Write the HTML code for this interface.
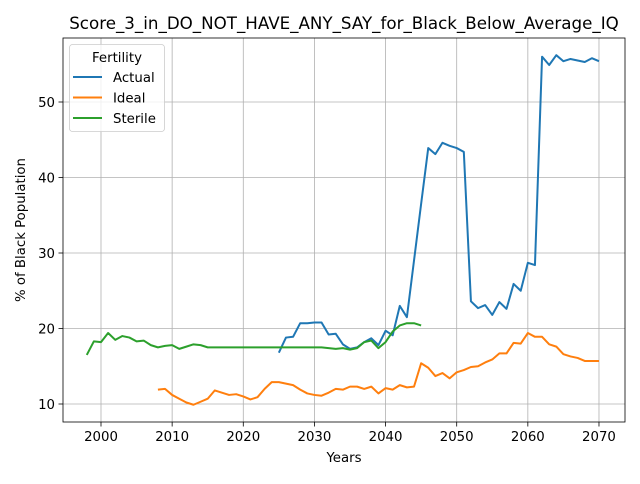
<!DOCTYPE html>
<html><head><meta charset="utf-8"><style>
body{margin:0;background:#fff;font-family:"DejaVu Sans","Liberation Sans",sans-serif;}
svg text{font-family:"DejaVu Sans","Liberation Sans",sans-serif;}
</style></head><body>
<svg id="chart" width="640" height="480" xmlns="http://www.w3.org/2000/svg"></svg>
<script>
const actualYears=[2025,2026,2027,2028,2029,2030,2031,2032,2033,2034,2035,2036,2037,2038,2039,2040,2041,2042,2043,2044,2045,2046,2047,2048,2049,2050,2051,2052,2053,2054,2055,2056,2057,2058,2059,2060,2061,2062,2063,2064,2065,2066,2067,2068,2069,2070];
const actualValues=[16.8,18.8,18.9,20.7,20.7,20.8,20.8,19.2,19.3,17.9,17.3,17.5,18.2,18.7,17.8,19.7,19.1,23.0,21.5,29.0,36.5,43.9,43.1,44.6,44.2,43.9,43.4,23.6,22.7,23.1,21.8,23.5,22.6,25.9,25.0,28.7,28.4,56.0,54.9,56.2,55.4,55.7,55.5,55.3,55.8,55.4];
const idealYears=[2008,2009,2010,2011,2012,2013,2014,2015,2016,2017,2018,2019,2020,2021,2022,2023,2024,2025,2026,2027,2028,2029,2030,2031,2032,2033,2034,2035,2036,2037,2038,2039,2040,2041,2042,2043,2044,2045,2046,2047,2048,2049,2050,2051,2052,2053,2054,2055,2056,2057,2058,2059,2060,2061,2062,2063,2064,2065,2066,2067,2068,2069,2070];
const idealValues=[11.9,12.0,11.2,10.7,10.2,9.9,10.3,10.7,11.8,11.5,11.2,11.3,11.0,10.6,10.9,12.0,12.9,12.9,12.7,12.5,11.9,11.4,11.2,11.1,11.5,12.0,11.9,12.3,12.3,12.0,12.3,11.4,12.1,11.9,12.5,12.2,12.3,15.4,14.8,13.7,14.1,13.4,14.2,14.5,14.9,15.0,15.5,15.9,16.7,16.7,18.1,18.0,19.4,18.9,18.9,17.9,17.6,16.6,16.3,16.1,15.7,15.7,15.7];
const sterileYears=[1998,1999,2000,2001,2002,2003,2004,2005,2006,2007,2008,2009,2010,2011,2012,2013,2014,2015,2016,2017,2018,2019,2020,2021,2022,2023,2024,2025,2026,2027,2028,2029,2030,2031,2032,2033,2034,2035,2036,2037,2038,2039,2040,2041,2042,2043,2044,2045];
const sterileValues=[16.5,18.3,18.2,19.4,18.5,19.0,18.8,18.3,18.4,17.8,17.5,17.7,17.8,17.3,17.6,17.9,17.8,17.5,17.5,17.5,17.5,17.5,17.5,17.5,17.5,17.5,17.5,17.5,17.5,17.5,17.5,17.5,17.5,17.5,17.4,17.3,17.4,17.2,17.4,18.2,18.4,17.4,18.2,19.6,20.4,20.7,20.7,20.4];
const xTicks=[2000,2010,2020,2030,2040,2050,2060,2070];
const yTicks=[10,20,30,40,50];
const NS="http://www.w3.org/2000/svg";
const svg=document.getElementById('chart');
const L=63,R=625,T=38,B=422;
const x=v=>101+(v-2000)*7.114;
const y=v=>404-(v-10)*7.55;
function el(tag,attrs,parent){const e=document.createElementNS(NS,tag);for(const k in attrs)e.setAttribute(k,attrs[k]);(parent||svg).appendChild(e);return e;}
const title=el('text',{x:344,y:29,'text-anchor':'middle','font-size':16.7,fill:'#000'});


title.textContent='Score_3_in_DO_NOT_HAVE_ANY_SAY_for_Black_Below_Average_IQ';
xTicks.forEach(t=>{
 const g=el('line',{x1:x(t),x2:x(t),y1:T,y2:B,stroke:'#b0b0b0','stroke-width':0.8});
 
 
 el('line',{x1:x(t),x2:x(t),y1:B,y2:B+4.5,stroke:'#000','stroke-width':0.8});
 const tx=el('text',{x:x(t),y:B+19,'text-anchor':'middle','font-size':13.3,fill:'#000'});
 
 
 tx.textContent=t;
});
yTicks.forEach(t=>{
 const g=el('line',{x1:L,x2:R,y1:y(t),y2:y(t),stroke:'#b0b0b0','stroke-width':0.8});
 
 
 el('line',{x1:L-4.5,x2:L,y1:y(t),y2:y(t),stroke:'#000','stroke-width':0.8});
 const tx=el('text',{x:L-8,y:y(t)+5,'text-anchor':'end','font-size':13.3,fill:'#000'});
 
 
 tx.textContent=t;
});
function series(xs,vs,color,name){
 const p=el('polyline',{points:xs.map((a,i)=>x(a)+','+y(vs[i])).join(' '),fill:'none',stroke:color,'stroke-width':2,'stroke-linejoin':'round'});
 
 
}
series(actualYears,actualValues,'#1f77b4','actual-line');
series(idealYears,idealValues,'#ff7f0e','ideal-line');
series(sterileYears,sterileValues,'#2ca02c','sterile-line');
const frame=el('rect',{x:L,y:T,width:R-L,height:B-T,fill:'none',stroke:'#000','stroke-width':0.8});


const xl=el('text',{x:344,y:462,'text-anchor':'middle','font-size':13.3,fill:'#000'});


xl.textContent='Years';
const yl=el('text',{x:0,y:0,'text-anchor':'middle','font-size':13.3,fill:'#000',transform:'translate(25,230) rotate(-90)'});


yl.textContent='% of Black Population';
const lg=el('g',{});


el('rect',{x:69.5,y:44.5,width:95,height:87,rx:3,fill:'#fff','fill-opacity':0.8,stroke:'#ccc','stroke-width':0.8},lg);
el('text',{x:117,y:62,'text-anchor':'middle','font-size':13.3,fill:'#000'},lg).textContent='Fertility';
[['Actual','#1f77b4'],['Ideal','#ff7f0e'],['Sterile','#2ca02c']].forEach((d,i)=>{
 const yy=77+i*20.5;
 const e=el('line',{x1:73,x2:102,y1:yy,y2:yy,stroke:d[1],'stroke-width':2},lg);
 
 
 el('text',{x:113,y:yy+5,'font-size':13.3,fill:'#000'},lg).textContent=d[0];
});
</script>
</body></html>
